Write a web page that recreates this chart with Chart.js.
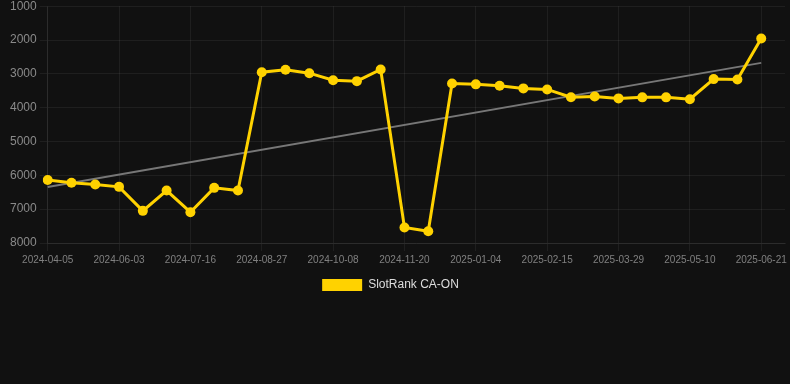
<!DOCTYPE html>
<html>
<head>
<meta charset="utf-8">
<script src="https://cdn.jsdelivr.net/npm/chart.js@4.4.1/dist/chart.umd.min.js"></script>
<style>
  html, body { margin: 0; padding: 0; background: #111111; overflow: hidden; }
  #wrap { width: 790px; height: 305px; margin-top: -4px; position: relative; }
</style>
</head>
<body>
<div id="wrap"><canvas id="rank_chart"></canvas></div>
<script>
// dates, one every ~2 weeks (only every 3rd is labelled in the picture)
const dates = [
  "2024-04-05", "2024-04-24", "2024-05-13", "2024-06-03", "2024-06-17",
  "2024-07-01", "2024-07-16", "2024-07-30", "2024-08-13", "2024-08-27",
  "2024-09-10", "2024-09-24", "2024-10-08", "2024-10-22", "2024-11-05",
  "2024-11-20", "2024-12-05", "2024-12-20", "2025-01-04", "2025-01-18",
  "2025-02-01", "2025-02-15", "2025-03-01", "2025-03-15", "2025-03-29",
  "2025-04-12", "2025-04-26", "2025-05-10", "2025-05-24", "2025-06-07",
  "2025-06-21", "2025-07-05"
];

const rankCAON = [
  6140, 6220, 6270, 6340, 7050, 6450, 7090, 6370, 6450, 2950,
  2880, 2980, 3190, 3215, 2870, 7540, 7655, 3285, 3310, 3350,
  3430, 3460, 3690, 3670, 3725, 3695, 3695, 3750, 3155, 3165,
  1955
];

// trend line, start and end
const trendStart = 6345;
const trendEnd = 2675;

const yTicks = [1000, 2000, 3000, 4000, 5000, 6000, 7000, 8000];

const trend = rankCAON.map(() => null);
trend[0] = trendStart;
trend[rankCAON.length - 1] = trendEnd;

const gridColor = "rgba(255,255,255,0.06)";
const fontFamily = "'Liberation Sans', Arial, sans-serif";

// legend in the original sits a little left of centre
const legendShift = {
  id: "legendShift",
  afterLayout(chart) {
    chart.legend.left -= 8;
    chart.legend.right -= 8;
  },
};

new Chart(document.getElementById("rank_chart"), {
  type: "line",
  data: {
    labels: dates,
    datasets: [
      {
        label: "SlotRank CA-ON",
        data: rankCAON,
        borderColor: "#FFD200",
        backgroundColor: "#FFD200",
        borderWidth: 3,
        pointRadius: 5,
        pointHoverRadius: 5,
        pointBackgroundColor: "#FFD200",
        pointBorderWidth: 0,
        tension: 0,
        order: 1,
      },
      {
        label: "trend",
        data: trend,
        borderColor: "#777777",
        borderWidth: 2,
        pointRadius: 0,
        spanGaps: true,
        order: 2,
      },
    ],
  },
  options: {
    responsive: true,
    maintainAspectRatio: false,
    animation: false,
    layout: { padding: { left: 7, right: 0, top: 0, bottom: 0 } },
    scales: {
      x: {
        offset: false,
        grid: { color: gridColor, tickLength: 8 },
        border: { color: gridColor },
        ticks: {
          autoSkip: false,
          maxRotation: 0,
          color: "#808080",
          font: { family: fontFamily, size: 10 },
          callback: function (value, index) {
            if (index % 3 !== 0 || index >= rankCAON.length) return null;
            return this.getLabelForValue(value);
          },
        },
      },
      y: {
        reverse: true,
        min: 1000,
        max: 8000,
        afterBuildTicks: (axis) => {
          axis.ticks = yTicks.map((v) => ({ value: v }));
        },
        grid: { color: gridColor, tickLength: 8 },
        border: { color: gridColor },
        ticks: {
          color: "#8a8a8a",
          padding: 3,
          font: { family: fontFamily, size: 12 },
          callback: (v) => String(v),
        },
      },
    },
    plugins: {
      tooltip: { enabled: false },
      legend: {
        position: "bottom",
        labels: {
          color: "#dddddd",
          boxWidth: 40,
          boxHeight: 12,
          font: { family: fontFamily, size: 12 },
          filter: (item) => item.text !== "trend",
          generateLabels: (chart) =>
            Chart.defaults.plugins.legend.labels
              .generateLabels(chart)
              .map((item) => Object.assign(item, { lineWidth: 0 })),
        },
      },
    },
  },
  plugins: [legendShift],
});
</script>
</body>
</html>
